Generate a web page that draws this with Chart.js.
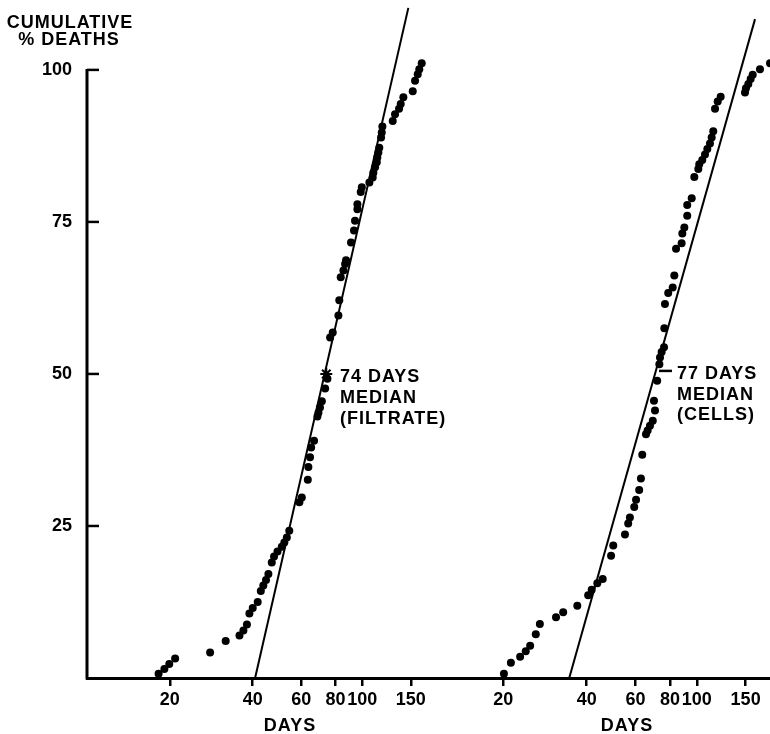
<!DOCTYPE html>
<html><head><meta charset="utf-8">
<script src="https://cdn.jsdelivr.net/npm/chart.js@4"></script>
<style>
html,body{margin:0;padding:0;background:#fff;}
#wrap{position:relative;width:770px;height:734px;overflow:hidden;background:#fff;}
canvas{position:absolute;top:0;}
#c1{left:0;} #c2{left:470px;}
</style></head><body>
<div id="wrap"><canvas id="c1" width="470" height="734"></canvas><canvas id="c2" width="300" height="734"></canvas></div>
<script>
// ---- data ----
const yTicks = [25, 50, 75, 100];
const xTicks = [20, 40, 60, 80, 100, 150];

const filtrateDays = [18.2,19.1,19.9,20.9,28.0,31.9,35.8,37.0,38.1,38.9,40.0,41.7,42.8,43.7,44.7,45.6,46.9,47.8,49.2,51.0,52.1,53.2,54.3,59.1,60.3,63.4,63.7,64.6,65.2,66.8,68.7,69.3,70.2,71.3,73.3,74.7,76.4,78.1,81.9,82.5,83.5,85.4,86.6,87.3,91.0,93.3,94.1,96.0,96.0,98.7,99.6,106.1,109.1,109.7,111.3,112.9,113.4,114.4,115.3,117.0,117.7,118.3,129.0,131.5,136.0,137.9,141.0,152.5,155.5,159.0,161.1,164.4];
const filtratePct  = [0.7,1.5,2.3,3.2,4.2,6.1,7.0,7.8,8.8,10.6,11.5,12.5,14.3,15.2,16.1,17.1,19.0,20.0,20.8,21.6,22.3,23.1,24.2,28.9,29.7,32.6,34.7,36.3,37.9,39.0,43.0,43.6,44.5,45.5,47.6,49.2,56.0,56.8,59.6,62.1,65.9,67.0,68.1,68.7,71.6,73.6,75.2,77.1,77.9,79.9,80.7,81.5,82.3,83.1,84.0,84.8,85.6,86.4,87.2,88.9,89.7,90.7,91.6,92.7,93.6,94.4,95.5,96.5,98.2,99.3,100.1,101.1];

const cellsDays = [20.1,21.3,23.0,24.1,25.0,26.2,27.1,31.0,32.9,37.0,40.5,41.7,43.7,45.7,49.0,49.9,55.0,56.5,57.3,59.4,60.3,61.9,62.8,63.5,65.5,66.4,67.7,69.3,70.6,70.0,71.9,73.2,73.6,74.6,76.1,76.3,76.7,78.8,81.8,82.9,84.1,88.1,88.6,90.1,92.3,92.3,95.8,97.9,101.2,102.0,104.6,107.0,109.1,111.5,113.1,114.6,116.3,118.9,121.9,149.2,150.4,153.4,156.4,159.1,169.0,183.7];
const cellsPct  = [0.7,2.5,3.5,4.4,5.3,7.2,8.9,10.0,10.8,11.9,13.6,14.5,15.6,16.3,20.1,21.8,23.6,25.4,26.4,28.1,29.3,30.9,32.8,36.7,40.1,40.7,41.5,42.3,44.0,45.6,48.9,51.6,52.7,53.6,54.4,57.5,61.5,63.3,64.2,66.2,70.6,71.5,73.1,74.1,76.0,77.8,78.9,82.4,83.7,84.5,85.2,86.1,87.0,87.9,88.9,89.9,93.6,94.8,95.6,96.3,97.0,97.7,98.5,99.2,100.1,101.1];

const filtrateFitDays = [40.8, 147.0];
const filtrateFitPct  = [0, 110.2];
const cellsFitDays = [34.6, 162.2];
const cellsFitPct  = [0, 108.35];

const filtrateMedianDay = [74];
const filtrateMedianPct = [50];
const cellsTickDays = [73.0, 81.3];
const cellsTickPct  = [50.5, 50.5];

const filtrateNote = ['74 DAYS', 'MEDIAN', '(FILTRATE)'];
const cellsNote = ['77 DAYS', 'MEDIAN', '(CELLS)'];
const yTitle = ['CUMULATIVE', '% DEATHS'];
const xTitle = 'DAYS';

// ---- helpers ----
const FONT = {family: 'Liberation Sans', size: 18, weight: 'bold'};
const CSSFONT = 'bold 18px "Liberation Sans"';
const pts = (xs, ys) => xs.map((x, i) => ({x: x, y: ys[i]}));

function dotSet(xs, ys) {
  return {data: pts(xs, ys), showLine: false, pointRadius: 4, pointHoverRadius: 4,
          pointBackgroundColor: '#000', pointBorderColor: '#000', pointBorderWidth: 0};
}
function lineSet(xs, ys, w) {
  return {data: pts(xs, ys), showLine: true, pointRadius: 0, borderColor: '#000',
          borderWidth: w, fill: false, tension: 0};
}
function noPad(s) { s.paddingTop = 0; s.paddingBottom = 0; s.paddingLeft = 0; s.paddingRight = 0; }

function xScale(min, max) {
  return {
    type: 'logarithmic', min: min, max: max, bounds: 'data',
    afterBuildTicks: s => { s.ticks = xTicks.map(v => ({value: v})); },
    afterFit: s => { s.height = 56; noPad(s); },
    grid: {display: true, drawOnChartArea: false, drawTicks: true, tickLength: 8, lineWidth: 2.5, color: '#000'},
    border: {display: true, width: 3, color: '#000'},
    ticks: {autoSkip: false, maxRotation: 0, minRotation: 0, padding: 3, color: '#000', font: FONT,
            callback: v => String(v)}
  };
}

function textPlugin(id, draw) {
  return {id: id, afterDraw(chart) {
    const ctx = chart.ctx;
    ctx.save();
    ctx.fillStyle = '#000'; ctx.strokeStyle = '#000';
    ctx.font = CSSFONT;
    if ('letterSpacing' in ctx) ctx.letterSpacing = '1px';
    ctx.textBaseline = 'alphabetic';
    draw(chart, ctx);
    ctx.restore();
  }};
}

const deco1 = textPlugin('deco1', (chart, ctx) => {
  const y = chart.scales.y, a = chart.chartArea;
  ctx.lineWidth = 3;
  ctx.beginPath();
  ctx.moveTo(a.left, y.getPixelForValue(100) - 1);
  ctx.lineTo(a.left, y.getPixelForValue(0) + 1.5);
  ctx.stroke();
  ctx.lineWidth = 2.5;
  yTicks.forEach(v => {
    const p = y.getPixelForValue(v);
    ctx.beginPath(); ctx.moveTo(a.left, p); ctx.lineTo(a.left + 12, p); ctx.stroke();
  });
  ctx.textAlign = 'center';
  ctx.fillText(yTitle[0], 70, 28);
  ctx.fillText(yTitle[1], 69, 45);
  ctx.fillText(xTitle, 290, 731);
  ctx.textAlign = 'left';
  filtrateNote.forEach((t, i) => ctx.fillText(t, 340, 381.5 + i * 21));
});

const deco2 = textPlugin('deco2', (chart, ctx) => {
  ctx.textAlign = 'center';
  ctx.fillText(xTitle, 157, 731);
  ctx.textAlign = 'left';
  cellsNote.forEach((t, i) => ctx.fillText(t, 207, 379 + i * 20.5));
});

Chart.defaults.font.family = 'Liberation Sans';

const layout = {autoPadding: false, padding: {top: 3, left: 0, right: 0, bottom: 0}};

new Chart(document.getElementById('c1'), {
  type: 'scatter',
  data: {datasets: [
    lineSet(filtrateFitDays, filtrateFitPct, 2),
    dotSet(filtrateDays, filtratePct),
    {data: pts(filtrateMedianDay, filtrateMedianPct), showLine: false, pointStyle: 'star',
     pointRadius: 6, pointBorderColor: '#000', pointBorderWidth: 2, pointBackgroundColor: '#000'}
  ]},
  options: {
    responsive: false, animation: false, events: [],
    layout: layout,
    plugins: {legend: {display: false}, tooltip: {enabled: false}},
    scales: {
      x: xScale(10, 246.2),
      y: {type: 'linear', min: 0, max: 111,
          afterBuildTicks: s => { s.ticks = yTicks.map(v => ({value: v})); },
          afterFit: s => { s.width = 87; noPad(s); },
          grid: {display: false}, border: {display: false},
          ticks: {padding: 7, color: '#000', font: FONT, callback: v => String(v)}}
    }
  },
  plugins: [deco1]
});

new Chart(document.getElementById('c2'), {
  type: 'scatter',
  data: {datasets: [
    lineSet(cellsFitDays, cellsFitPct, 2),
    dotSet(cellsDays, cellsPct),
    lineSet(cellsTickDays, cellsTickPct, 2.5)
  ]},
  options: {
    responsive: false, animation: false, events: [],
    layout: layout,
    plugins: {legend: {display: false}, tooltip: {enabled: false}},
    scales: {
      x: xScale(15.16, 183.7),
      y: {type: 'linear', min: 0, max: 111, display: false}
    }
  },
  plugins: [deco2]
});
</script>
</body></html>
